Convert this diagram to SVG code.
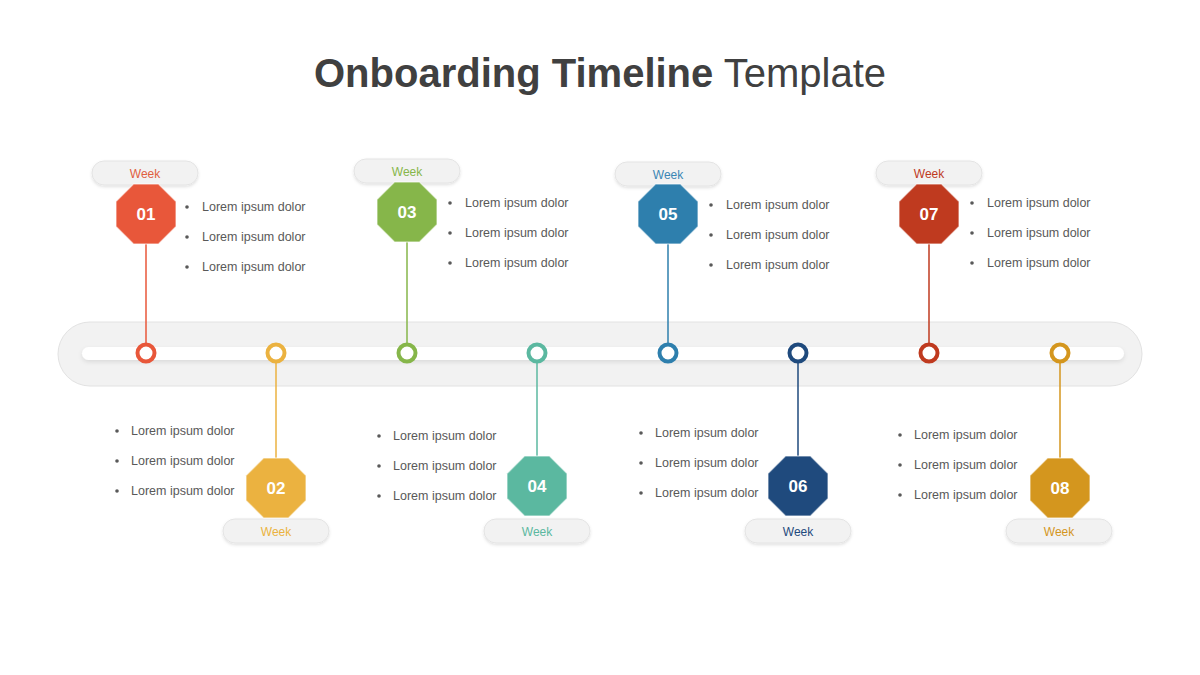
<svg xmlns="http://www.w3.org/2000/svg" xmlns:xlink="http://www.w3.org/1999/xlink" width="1200" height="675" viewBox="0 0 1200 675">
<defs>
<style>
.title{font-family:"Liberation Sans",Arial,sans-serif;font-size:40px;fill:#404040;}
.pill{fill:#f2f2f2;stroke:#e4e4e4;stroke-width:1;}
.week{font-family:"Liberation Sans",Arial,sans-serif;font-size:12px;text-anchor:middle;}
.num{font-family:"Liberation Sans",Arial,sans-serif;font-size:17px;font-weight:bold;fill:#fff;text-anchor:middle;}
.bul{font-family:"Liberation Sans",Arial,sans-serif;font-size:12.5px;fill:#595959;}
.dot{fill:#595959;}
.oct{stroke:#ffffff;stroke-opacity:0.5;stroke-width:1.5;}
.ring{fill:#fff;stroke-width:4;}
.conn line{stroke-width:1.5;}
</style>
<polygon id="oct" points="-12.43,-30 12.43,-30 30,-12.43 30,12.43 12.43,30 -12.43,30 -30,12.43 -30,-12.43"/>
<filter id="sh" x="-20%" y="-40%" width="140%" height="180%">
<feDropShadow dx="0" dy="1.5" stdDeviation="1.5" flood-color="#000" flood-opacity="0.12"/>
</filter>
<filter id="sh2" x="-10%" y="-50%" width="120%" height="200%">
<feDropShadow dx="0" dy="2" stdDeviation="2" flood-color="#000" flood-opacity="0.1"/>
</filter>
</defs>
<rect width="1200" height="675" fill="#ffffff"/>
<text class="title" x="600" y="87" text-anchor="middle"><tspan font-weight="bold">Onboarding Timeline</tspan> Template</text>

<g id="track">
<rect x="58" y="322" width="1084" height="64" rx="32" fill="#f2f2f2" stroke="#e2e2e2" stroke-width="1"/>
<rect x="82" y="347" width="1042" height="13" rx="6.5" fill="#ffffff" filter="url(#sh2)"/>
</g>

<g id="connectors" class="conn">
<line x1="146" y1="244" x2="146" y2="344" stroke="#e8573a"/>
<line x1="276" y1="362" x2="276" y2="458" stroke="#ebb240"/>
<line x1="407" y1="242" x2="407" y2="344" stroke="#86b64a"/>
<line x1="537" y1="362" x2="537" y2="456" stroke="#5bb8a0"/>
<line x1="668" y1="244" x2="668" y2="344" stroke="#2e7fad"/>
<line x1="798" y1="362" x2="798" y2="456" stroke="#1f4a7d"/>
<line x1="929" y1="244" x2="929" y2="344" stroke="#bf3a1f"/>
<line x1="1060" y1="362" x2="1060" y2="458" stroke="#d4961e"/>
</g>

<g id="markers">
<circle class="ring" cx="146" cy="353" r="8.5" stroke="#e8573a"/>
<circle class="ring" cx="276" cy="353" r="8.5" stroke="#ebb240"/>
<circle class="ring" cx="407" cy="353" r="8.5" stroke="#86b64a"/>
<circle class="ring" cx="537" cy="353" r="8.5" stroke="#5bb8a0"/>
<circle class="ring" cx="668" cy="353" r="8.5" stroke="#2e7fad"/>
<circle class="ring" cx="798" cy="353" r="8.5" stroke="#1f4a7d"/>
<circle class="ring" cx="929" cy="353" r="8.5" stroke="#bf3a1f"/>
<circle class="ring" cx="1060" cy="353" r="8.5" stroke="#d4961e"/>
</g>

<g id="node01">
<rect class="pill" x="92" y="161" width="106" height="24" rx="12" filter="url(#sh)"/>
<text class="week" x="145" y="178" fill="#e0603f">Week</text>
<use href="#oct" xlink:href="#oct" class="oct" x="146" y="214" fill="#e8573a"/>
<text class="num" x="146" y="220">01</text>
<circle class="dot" cx="187" cy="207" r="1.8"/><text class="bul" x="202" y="211">Lorem ipsum dolor</text>
<circle class="dot" cx="187" cy="237" r="1.8"/><text class="bul" x="202" y="241">Lorem ipsum dolor</text>
<circle class="dot" cx="187" cy="267" r="1.8"/><text class="bul" x="202" y="271">Lorem ipsum dolor</text>
</g>

<g id="node03">
<rect class="pill" x="354" y="159" width="106" height="24" rx="12" filter="url(#sh)"/>
<text class="week" x="407" y="176" fill="#86b64a">Week</text>
<use href="#oct" xlink:href="#oct" class="oct" x="407" y="212" fill="#86b64a"/>
<text class="num" x="407" y="218">03</text>
<circle class="dot" cx="450" cy="203" r="1.8"/><text class="bul" x="465" y="207">Lorem ipsum dolor</text>
<circle class="dot" cx="450" cy="233" r="1.8"/><text class="bul" x="465" y="237">Lorem ipsum dolor</text>
<circle class="dot" cx="450" cy="263" r="1.8"/><text class="bul" x="465" y="267">Lorem ipsum dolor</text>
</g>

<g id="node05">
<rect class="pill" x="615" y="162" width="106" height="24" rx="12" filter="url(#sh)"/>
<text class="week" x="668" y="179" fill="#3a86b4">Week</text>
<use href="#oct" xlink:href="#oct" class="oct" x="668" y="214" fill="#2e7fad"/>
<text class="num" x="668" y="220">05</text>
<circle class="dot" cx="711" cy="205" r="1.8"/><text class="bul" x="726" y="209">Lorem ipsum dolor</text>
<circle class="dot" cx="711" cy="235" r="1.8"/><text class="bul" x="726" y="239">Lorem ipsum dolor</text>
<circle class="dot" cx="711" cy="265" r="1.8"/><text class="bul" x="726" y="269">Lorem ipsum dolor</text>
</g>

<g id="node07">
<rect class="pill" x="876" y="161" width="106" height="24" rx="12" filter="url(#sh)"/>
<text class="week" x="929" y="178" fill="#bf3a1f">Week</text>
<use href="#oct" xlink:href="#oct" class="oct" x="929" y="214" fill="#bf3a1f"/>
<text class="num" x="929" y="220">07</text>
<circle class="dot" cx="972" cy="203" r="1.8"/><text class="bul" x="987" y="207">Lorem ipsum dolor</text>
<circle class="dot" cx="972" cy="233" r="1.8"/><text class="bul" x="987" y="237">Lorem ipsum dolor</text>
<circle class="dot" cx="972" cy="263" r="1.8"/><text class="bul" x="987" y="267">Lorem ipsum dolor</text>
</g>

<g id="node02">
<rect class="pill" x="223" y="519" width="106" height="24" rx="12" filter="url(#sh)"/>
<text class="week" x="276" y="536" fill="#ebb240">Week</text>
<use href="#oct" xlink:href="#oct" class="oct" x="276" y="488" fill="#ebb240"/>
<text class="num" x="276" y="494">02</text>
<circle class="dot" cx="117" cy="431" r="1.8"/><text class="bul" x="131" y="435">Lorem ipsum dolor</text>
<circle class="dot" cx="117" cy="461" r="1.8"/><text class="bul" x="131" y="465">Lorem ipsum dolor</text>
<circle class="dot" cx="117" cy="491" r="1.8"/><text class="bul" x="131" y="495">Lorem ipsum dolor</text>
</g>

<g id="node04">
<rect class="pill" x="484" y="519" width="106" height="24" rx="12" filter="url(#sh)"/>
<text class="week" x="537" y="536" fill="#5bb8a0">Week</text>
<use href="#oct" xlink:href="#oct" class="oct" x="537" y="486" fill="#5bb8a0"/>
<text class="num" x="537" y="492">04</text>
<circle class="dot" cx="379" cy="436" r="1.8"/><text class="bul" x="393" y="440">Lorem ipsum dolor</text>
<circle class="dot" cx="379" cy="466" r="1.8"/><text class="bul" x="393" y="470">Lorem ipsum dolor</text>
<circle class="dot" cx="379" cy="496" r="1.8"/><text class="bul" x="393" y="500">Lorem ipsum dolor</text>
</g>

<g id="node06">
<rect class="pill" x="745" y="519" width="106" height="24" rx="12" filter="url(#sh)"/>
<text class="week" x="798" y="536" fill="#1f4a7d">Week</text>
<use href="#oct" xlink:href="#oct" class="oct" x="798" y="486" fill="#1f4a7d"/>
<text class="num" x="798" y="492">06</text>
<circle class="dot" cx="641" cy="433" r="1.8"/><text class="bul" x="655" y="437">Lorem ipsum dolor</text>
<circle class="dot" cx="641" cy="463" r="1.8"/><text class="bul" x="655" y="467">Lorem ipsum dolor</text>
<circle class="dot" cx="641" cy="493" r="1.8"/><text class="bul" x="655" y="497">Lorem ipsum dolor</text>
</g>

<g id="node08">
<rect class="pill" x="1006" y="519" width="106" height="24" rx="12" filter="url(#sh)"/>
<text class="week" x="1059" y="536" fill="#d4961e">Week</text>
<use href="#oct" xlink:href="#oct" class="oct" x="1060" y="488" fill="#d4961e"/>
<text class="num" x="1060" y="494">08</text>
<circle class="dot" cx="900" cy="435" r="1.8"/><text class="bul" x="914" y="439">Lorem ipsum dolor</text>
<circle class="dot" cx="900" cy="465" r="1.8"/><text class="bul" x="914" y="469">Lorem ipsum dolor</text>
<circle class="dot" cx="900" cy="495" r="1.8"/><text class="bul" x="914" y="499">Lorem ipsum dolor</text>
</g>
</svg>
